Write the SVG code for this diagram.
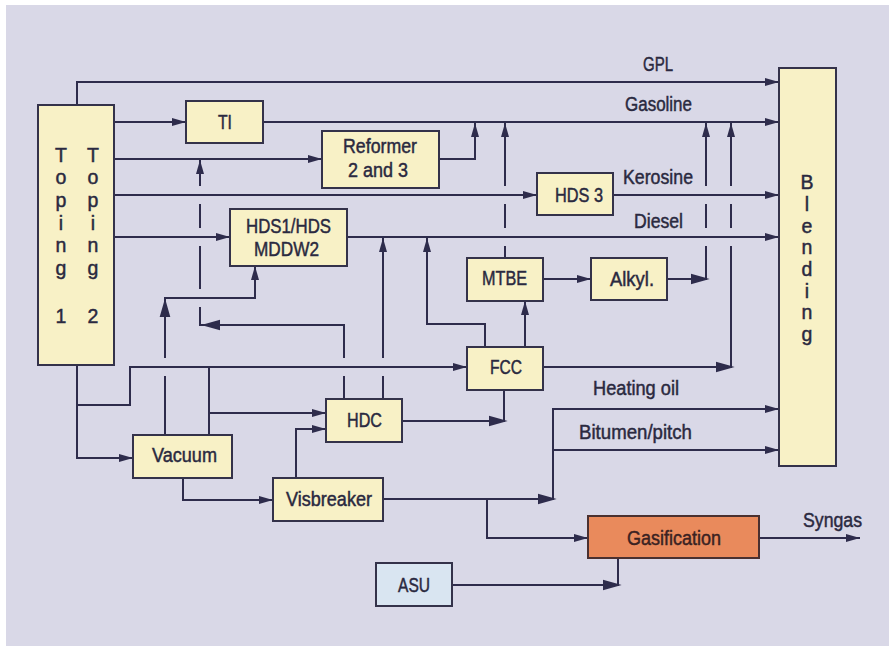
<svg xmlns="http://www.w3.org/2000/svg" xmlns:xlink="http://www.w3.org/1999/xlink" width="889" height="646" viewBox="0 0 889 646">
<style>
.ln{stroke:#2e2c4c;stroke-width:2;fill:none}
.bx{fill:#f8f1c6;stroke:#34324a;stroke-width:2}
.t{font-family:"Liberation Sans",Arial,sans-serif;font-size:19.5px;fill:#2a2940;stroke:#2a2940;stroke-width:0.45px}
.c{text-anchor:middle}
</style>
<defs>
<marker id="a" markerUnits="userSpaceOnUse" markerWidth="14" markerHeight="8" refX="14" refY="4" orient="auto" viewBox="0 0 14 8">
<path d="M0,0 L14,4 L0,8 z" fill="#2e2c4c"/>
</marker>
<path id="ah" d="M0,0 L-14,-4 L-14,4 z" fill="#2e2c4c"/>
</defs>
<rect x="0" y="0" width="889" height="646" fill="#ffffff"/>
<rect x="6" y="5" width="883" height="641" fill="#d9d8e7"/>

<g id="connectors" class="ln">
<path d="M77,105 V82 H779" marker-end="url(#a)"/>
<path d="M114,122 H186" marker-end="url(#a)"/>
<path d="M263,122 H779" marker-end="url(#a)"/>
<path d="M114,159 H322" marker-end="url(#a)"/>
<path d="M439,159 H475 V123" marker-end="url(#a)"/>
<path d="M114,195 H537" marker-end="url(#a)"/>
<path d="M613,195 H779" marker-end="url(#a)"/>
<path d="M114,237 H230" marker-end="url(#a)"/>
<path d="M347,237 H779" marker-end="url(#a)"/>
<path d="M165,435 V376"/>
<path d="M165,358 V298 H255 V266" marker-end="url(#a)"/>
<use xlink:href="#ah" transform="translate(165,302) rotate(-90)"/>
<path d="M344,399 V376"/>
<path d="M344,358 V325 H200 V307"/>
<use xlink:href="#ah" transform="translate(205,325) rotate(180)"/>
<path d="M200,289 V246"/>
<path d="M200,228 V204"/>
<path d="M200,186 V160" marker-end="url(#a)"/>
<path d="M383,399 V376"/>
<path d="M383,358 V238" marker-end="url(#a)"/>
<path d="M209,435 V367"/>
<path d="M209,413 H326" marker-end="url(#a)"/>
<path d="M77,365 V458 H133" marker-end="url(#a)"/>
<path d="M77,405 H130 V367 H467" marker-end="url(#a)"/>
<path d="M183,478 V500 H273" marker-end="url(#a)"/>
<path d="M296,478 V429 H326" marker-end="url(#a)"/>
<path d="M402,421 H504 V390"/>
<use xlink:href="#ah" transform="translate(504,421)"/>
<path d="M485,347 V324 H427 V238" marker-end="url(#a)"/>
<path d="M525,347 V301" marker-end="url(#a)"/>
<path d="M505,258 V246"/>
<path d="M505,228 V204"/>
<path d="M505,186 V123" marker-end="url(#a)"/>
<path d="M543,279 H591" marker-end="url(#a)"/>
<path d="M667,279 H706 V246"/>
<use xlink:href="#ah" transform="translate(706,279)"/>
<path d="M706,228 V204"/>
<path d="M706,186 V123" marker-end="url(#a)"/>
<path d="M543,367 H731 V246"/>
<use xlink:href="#ah" transform="translate(731,367)"/>
<path d="M731,228 V204"/>
<path d="M731,186 V123" marker-end="url(#a)"/>
<path d="M383,499 H553 V409 H779" marker-end="url(#a)"/>
<use xlink:href="#ah" transform="translate(553,499)"/>
<path d="M553,450 H779" marker-end="url(#a)"/>
<path d="M487,499 V538 H588" marker-end="url(#a)"/>
<path d="M452,585 H618 V558"/>
<use xlink:href="#ah" transform="translate(618,585)"/>
<path d="M759,538 H860" marker-end="url(#a)"/>
</g>

<g id="labels" class="t">
<text x="643" y="71" textLength="30" lengthAdjust="spacingAndGlyphs">GPL</text>
<text x="625" y="111" textLength="67" lengthAdjust="spacingAndGlyphs">Gasoline</text>
<text x="623" y="184" textLength="70" lengthAdjust="spacingAndGlyphs">Kerosine</text>
<text x="634" y="228" textLength="49" lengthAdjust="spacingAndGlyphs">Diesel</text>
<text x="593" y="395" textLength="86" lengthAdjust="spacingAndGlyphs">Heating oil</text>
<text x="579" y="439" textLength="113" lengthAdjust="spacingAndGlyphs">Bitumen/pitch</text>
<text x="803" y="527" textLength="59" lengthAdjust="spacingAndGlyphs">Syngas</text>
</g>

<g id="toping">
<rect class="bx" x="38" y="105" width="76" height="260"/>
<g class="t c">
<text x="61" y="162">T</text><text x="93" y="162">T</text>
<text x="61" y="184">o</text><text x="93" y="184">o</text>
<text x="61" y="207">p</text><text x="93" y="207">p</text>
<text x="61" y="230">i</text><text x="93" y="230">i</text>
<text x="61" y="252">n</text><text x="93" y="252">n</text>
<text x="61" y="275">g</text><text x="93" y="275">g</text>
<text x="61" y="323">1</text><text x="93" y="323">2</text>
</g>
</g>

<g id="blending">
<rect class="bx" x="779" y="68" width="57" height="398"/>
<g class="t c">
<text x="807" y="189">B</text>
<text x="807" y="211">l</text>
<text x="807" y="233">e</text>
<text x="807" y="254">n</text>
<text x="807" y="276">d</text>
<text x="807" y="298">i</text>
<text x="807" y="319">n</text>
<text x="807" y="341">g</text>
</g>
</g>

<g id="ti">
<rect class="bx" x="186" y="101" width="77" height="42"/>
<text class="t" x="218" y="129" textLength="14" lengthAdjust="spacingAndGlyphs">TI</text>
</g>

<g id="reformer">
<rect class="bx" x="322" y="131" width="117" height="57"/>
<text class="t" x="343" y="153" textLength="74" lengthAdjust="spacingAndGlyphs">Reformer</text>
<text class="t" x="348" y="177" textLength="60" lengthAdjust="spacingAndGlyphs">2 and 3</text>
</g>

<g id="hds3">
<rect class="bx" x="537" y="173" width="76" height="42"/>
<text class="t" x="555" y="202" textLength="48" lengthAdjust="spacingAndGlyphs">HDS 3</text>
</g>

<g id="hds1">
<rect class="bx" x="230" y="209" width="117" height="57"/>
<text class="t" x="246" y="233" textLength="85" lengthAdjust="spacingAndGlyphs">HDS1/HDS</text>
<text class="t" x="254" y="256" textLength="65" lengthAdjust="spacingAndGlyphs">MDDW2</text>
</g>

<g id="mtbe">
<rect class="bx" x="467" y="258" width="76" height="43"/>
<text class="t" x="482" y="285" textLength="45" lengthAdjust="spacingAndGlyphs">MTBE</text>
</g>

<g id="alkyl">
<rect class="bx" x="591" y="258" width="76" height="42"/>
<text class="t" x="610" y="286" textLength="44" lengthAdjust="spacingAndGlyphs">Alkyl.</text>
</g>

<g id="fcc">
<rect class="bx" x="467" y="347" width="76" height="43"/>
<text class="t" x="490" y="374" textLength="32" lengthAdjust="spacingAndGlyphs">FCC</text>
</g>

<g id="hdc">
<rect class="bx" x="326" y="399" width="76" height="43"/>
<text class="t" x="347" y="427" textLength="35" lengthAdjust="spacingAndGlyphs">HDC</text>
</g>

<g id="vacuum">
<rect class="bx" x="133" y="435" width="99" height="43"/>
<text class="t" x="152" y="462" textLength="65" lengthAdjust="spacingAndGlyphs">Vacuum</text>
</g>

<g id="visbreaker">
<rect class="bx" x="273" y="478" width="110" height="43"/>
<text class="t" x="286" y="506" textLength="86" lengthAdjust="spacingAndGlyphs">Visbreaker</text>
</g>

<g id="gasification">
<rect x="588" y="516" width="171" height="42" fill="#e98a5c" stroke="#4a3030" stroke-width="2"/>
<text class="t" x="627" y="545" textLength="94" lengthAdjust="spacingAndGlyphs" style="fill:#3a2222;stroke:#3a2222">Gasification</text>
</g>

<g id="asu">
<rect x="376" y="563" width="76" height="43" fill="#d9e5f1" stroke="#34324a" stroke-width="2"/>
<text class="t" x="398" y="592" textLength="32" lengthAdjust="spacingAndGlyphs">ASU</text>
</g>
</svg>
